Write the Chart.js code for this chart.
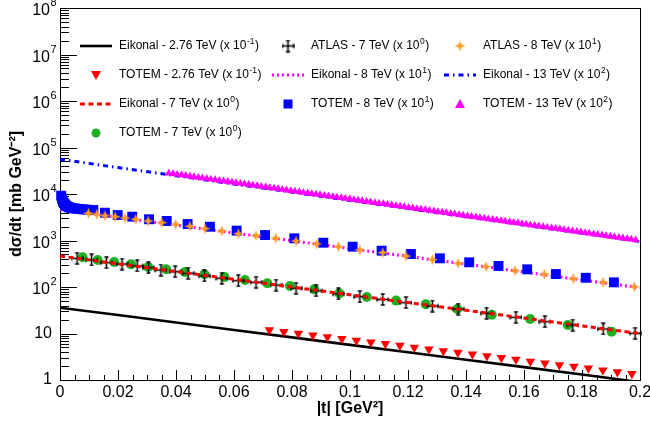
<!DOCTYPE html>
<html>
<head>
<meta charset="utf-8">
<script src="https://cdn.jsdelivr.net/npm/chart.js@4.4.1/dist/chart.umd.min.js"></script>
<style>
  html, body { margin: 0; padding: 0; background: #fff; }
  canvas { display: block; }
</style>
</head>
<body>
<canvas id="chart" width="650" height="434"></canvas>
<script>
// x grid shared by the eikonal curves (|t| in GeV^2)
const curveT = [0, 0.02, 0.04, 0.06, 0.08, 0.1, 0.12, 0.14, 0.16, 0.18, 0.2];
const eik276 = [35.9, 24.9, 17.2, 11.9, 8.24, 5.70, 3.94, 2.73, 1.89, 1.31, 0.90];
const eik7 = [464, 316, 215, 147, 99.9, 68.0, 46.3, 31.6, 21.5, 14.6, 9.96];
const eik8 = [4650, 3157, 2143, 1455, 988, 671, 455, 309, 210, 142, 96.6];
const eik13 = [55700, 37080, 24680, 16430, 10940, 7282, 4848, 3227, 2148, 1430, 952];

// TOTEM 2.76 TeV (x 10^-1)
const totem276T = [0.0722, 0.0772, 0.0822, 0.0872, 0.0922, 0.0972, 0.1022, 0.1072, 0.1122, 0.1172,
  0.1222, 0.1272, 0.1322, 0.1372, 0.1422, 0.1472, 0.1522, 0.1572, 0.1622, 0.1672,
  0.1722, 0.1772, 0.1822, 0.1872, 0.1922, 0.1972];
const totem276 = [11.9, 10.9, 10.0, 9.2, 8.4, 7.7, 7.1, 6.5, 6.0, 5.5,
  5.0, 4.6, 4.2, 3.9, 3.6, 3.3, 3.0, 2.75, 2.5, 2.3,
  2.1, 1.95, 1.8, 1.62, 1.48, 1.36];

// ATLAS 7 TeV (x 10^0)
const atlas7T = [0.0059, 0.0109, 0.0160, 0.0214, 0.0266, 0.0305, 0.0348, 0.0397, 0.0442, 0.0498,
  0.0558, 0.0615, 0.0676, 0.0745, 0.0814, 0.0883, 0.0960, 0.1034, 0.1113, 0.1193,
  0.1284, 0.1373, 0.1471, 0.1572, 0.1672, 0.1768, 0.1873, 0.1983];
const atlas7 = [414, 381, 333, 312, 283, 260, 232, 213, 197, 173,
  154, 137, 126, 110, 94, 83, 71, 62, 54, 46,
  39, 33.6, 27.2, 22.3, 17.9, 15.2, 12.5, 10.1];

// TOTEM 7 TeV (x 10^0)
const totem7T = [0.0078, 0.0130, 0.0187, 0.0245, 0.0304, 0.0366, 0.0431, 0.0498, 0.0567, 0.0638,
  0.0715, 0.0793, 0.0877, 0.0963, 0.1058, 0.1159, 0.1261, 0.1370, 0.1489, 0.1621,
  0.1751, 0.1902];
const totem7 = [435, 381, 345, 308, 269, 240, 210, 188, 164, 142,
  120, 105, 89, 73, 61, 51, 42.5, 33.6, 25.4, 20.5,
  15.2, 10.9];

// ATLAS 8 TeV (x 10^1)
const atlas8T = [0.0098, 0.0127, 0.0155, 0.0190, 0.0224, 0.0261, 0.0304, 0.0351, 0.0399, 0.0448,
  0.0500, 0.0558, 0.0615, 0.0676, 0.0744, 0.0814, 0.0885, 0.0960, 0.1034, 0.1113,
  0.1193, 0.1284, 0.1373, 0.1469, 0.1569, 0.1670, 0.1770, 0.1873, 0.1980];
const atlas8 = [3850, 3660, 3410, 3250, 3050, 2860, 2630, 2420, 2230, 2020,
  1790, 1600, 1400, 1270, 1120, 975, 841, 736, 625, 547,
  464, 387, 323, 274, 224, 188, 151, 126, 101];

// TOTEM 8 TeV (x 10^1)
const totem8T = [0.0004, 0.0007, 0.0010, 0.0013, 0.0017, 0.0021, 0.0026, 0.0031, 0.0037, 0.0044,
  0.0052, 0.0061, 0.0071, 0.0082, 0.0094, 0.0115, 0.0155, 0.0199, 0.0249, 0.0307,
  0.0368, 0.0440, 0.0517, 0.0609, 0.0707, 0.0808, 0.0908, 0.1009, 0.1109, 0.1210,
  0.1310, 0.1411, 0.1512, 0.1611, 0.1710, 0.1813, 0.1910];
const totem8 = [9200, 7900, 7000, 6400, 5950, 5600, 5350, 5180, 5050, 4950,
  4870, 4800, 4730, 4660, 4600, 4530, 3960, 3530, 3250, 2860,
  2630, 2260, 1980, 1630, 1310, 1115, 897, 736, 604, 513,
  414, 340, 283, 240, 190, 158, 126];

// TOTEM 13 TeV (x 10^2)
const totem13T = [
  0.0375, 0.0390, 0.0404, 0.0419, 0.0433, 0.0448, 0.0462, 0.0477, 0.0491, 0.0506,
  0.0520, 0.0535, 0.0549, 0.0564, 0.0578, 0.0593, 0.0607, 0.0622, 0.0636, 0.0651,
  0.0665, 0.0680, 0.0694, 0.0709, 0.0723, 0.0738, 0.0752, 0.0767, 0.0781, 0.0796,
  0.0810, 0.0825, 0.0839, 0.0854, 0.0868, 0.0883, 0.0897, 0.0912, 0.0926, 0.0941,
  0.0955, 0.0970, 0.0984, 0.0999, 0.1013, 0.1028, 0.1042, 0.1057, 0.1071, 0.1086,
  0.1100, 0.1115, 0.1129, 0.1144, 0.1158, 0.1173, 0.1187, 0.1202, 0.1216, 0.1231,
  0.1245, 0.1260, 0.1274, 0.1289, 0.1303, 0.1318, 0.1332, 0.1347, 0.1361, 0.1376,
  0.1390, 0.1405, 0.1419, 0.1434, 0.1448, 0.1463, 0.1477, 0.1492, 0.1506, 0.1521,
  0.1535, 0.1550, 0.1564, 0.1579, 0.1593, 0.1608, 0.1622, 0.1637, 0.1651, 0.1666,
  0.1680, 0.1695, 0.1709, 0.1724, 0.1738, 0.1753, 0.1767, 0.1782, 0.1796, 0.1811,
  0.1825, 0.1840, 0.1854, 0.1869, 0.1883, 0.1898, 0.1912, 0.1927, 0.1941, 0.1956,
  0.1970, 0.1985];
const totem13 = [
  28000, 27180, 26380, 25610, 24860, 24130, 23420, 22740, 22070, 21420,
  20790, 20180, 19590, 19020, 18460, 17920, 17390, 16880, 16390, 15910,
  15440, 14990, 14550, 14120, 13710, 13310, 12920, 12540, 12170, 11810,
  11470, 11130, 10800, 10490, 10180, 9881, 9591, 9310, 9037, 8772,
  8515, 8265, 8023, 7788, 7559, 7338, 7123, 6914, 6711, 6514,
  6322, 6137, 5957, 5783, 5613, 5448, 5289, 5134, 4983, 4837,
  4696, 4558, 4424, 4295, 4169, 4046, 3928, 3813, 3701, 3592,
  3486, 3384, 3285, 3188, 3095, 3004, 2916, 2831, 2748, 2667,
  2590, 2514, 2440, 2369, 2299, 2232, 2166, 2103, 2041, 1981,
  1923, 1867, 1812, 1759, 1707, 1657, 1609, 1561, 1516, 1471,
  1428, 1386, 1346, 1306, 1268, 1231, 1195, 1160, 1126, 1093,
  1061, 1030];

const yPowers = [0, 1, 2, 3, 4, 5, 6, 7, 8];

const FONT = '"Liberation Sans", Arial, Helvetica, sans-serif';
const RED = '#ff0000', GREEN = '#20b020', BLUE = '#0000ff', MAGENTA = '#ff00ff', ORANGE = '#ff9a20';

function pts(xs, ys) {
  return xs.map((t, i) => ({ x: t, y: ys[i] }));
}

// small canvas markers used as point styles
function makeMarker(size, draw) {
  const c = document.createElement('canvas');
  c.width = size; c.height = size;
  draw(c.getContext('2d'), size / 2);
  return c;
}
const atlasMark = makeMarker(13, (g, m) => {
  g.strokeStyle = '#000';
  g.lineWidth = 1.5;
  g.beginPath();
  g.moveTo(1, m); g.lineTo(12, m);
  g.moveTo(m, 1); g.lineTo(m, 12);
  g.moveTo(1, m - 2); g.lineTo(1, m + 2);
  g.moveTo(12, m - 2); g.lineTo(12, m + 2);
  g.moveTo(m - 2, 1); g.lineTo(m + 2, 1);
  g.moveTo(m - 2, 12); g.lineTo(m + 2, 12);
  g.stroke();
});
const starMark = makeMarker(13, (g, m) => {
  const r = 5.5, w = 1.5;
  g.fillStyle = ORANGE;
  g.beginPath();
  g.moveTo(m, m - r); g.lineTo(m + w, m - w); g.lineTo(m + r, m); g.lineTo(m + w, m + w);
  g.lineTo(m, m + r); g.lineTo(m - w, m + w); g.lineTo(m - r, m); g.lineTo(m - w, m - w);
  g.closePath();
  g.fill();
});

function curve(label, ys, color, width, dash) {
  return {
    label, data: pts(curveT, ys), showLine: true, borderColor: color, borderWidth: width,
    borderDash: dash, pointRadius: 0, fill: false, tension: 0
  };
}
function markers(label, xs, ys, style, color, radius, extra) {
  return Object.assign({
    label, data: pts(xs, ys), showLine: false, pointStyle: style, pointRadius: radius,
    backgroundColor: color, borderColor: color, pointBorderWidth: 0, clip: false
  }, extra || {});
}

// first dataset is drawn on top
const datasets = [
  markers('TOTEM - 13 TeV (x 10^2)', totem13T, totem13, 'triangle', MAGENTA, 4.5),
  curve('Eikonal - 13 TeV (x 10^2)', eik13, BLUE, 3, [5, 4, 1.5, 4]),
  markers('ATLAS - 8 TeV (x 10^1)', atlas8T, atlas8, starMark, ORANGE, 6),
  markers('TOTEM - 8 TeV (x 10^1)', totem8T, totem8, 'rect', BLUE, 7),
  curve('Eikonal - 8 TeV (x 10^1)', eik8, MAGENTA, 3, [2, 3]),
  curve('Eikonal - 7 TeV (x 10^0)', eik7, RED, 3, [5, 3.5]),
  markers('ATLAS - 7 TeV (x 10^0)', atlas7T, atlas7, atlasMark, '#000', 6),
  markers('TOTEM - 7 TeV (x 10^0)', totem7T, totem7, 'circle', GREEN, 5),
  markers('TOTEM - 2.76 TeV (x 10^-1)', totem276T, totem276, 'triangle', RED, 5.5, { pointRotation: 180 }),
  curve('Eikonal - 2.76 TeV (x 10^-1)', eik276, '#000', 2.6, [])
];

// legend layout (3 columns, row-major like the original)
const legendCols = [
  { sym: 96, x0: 80, x1: 112, text: 119 },
  { sym: 288, x0: 272, x1: 305, text: 311 },
  { sym: 460, x0: 444, x1: 476, text: 483 }
];
const legendRows = [46, 75, 104, 133];
const legendItems = [
  { text: 'Eikonal - 2.76 TeV (x 10', sup: '-1', kind: 'line', color: '#000', width: 2.6, dash: [] },
  { text: 'ATLAS - 7 TeV (x 10', sup: '0', kind: 'atlas' },
  { text: 'ATLAS - 8 TeV (x 10', sup: '1', kind: 'star' },
  { text: 'TOTEM - 2.76 TeV (x 10', sup: '-1', kind: 'tridown', color: RED },
  { text: 'Eikonal - 8 TeV (x 10', sup: '1', kind: 'line', color: MAGENTA, width: 3, dash: [2, 3] },
  { text: 'Eikonal - 13 TeV (x 10', sup: '2', kind: 'line', color: BLUE, width: 3, dash: [5, 4, 1.5, 4] },
  { text: 'Eikonal - 7 TeV (x 10', sup: '0', kind: 'line', color: RED, width: 3, dash: [5, 3.5] },
  { text: 'TOTEM - 8 TeV (x 10', sup: '1', kind: 'square', color: BLUE },
  { text: 'TOTEM - 13 TeV (x 10', sup: '2', kind: 'triup', color: MAGENTA },
  { text: 'TOTEM - 7 TeV (x 10', sup: '0', kind: 'circle', color: GREEN }
];

function drawLegendSymbol(ctx, item, col, y) {
  const x = col.sym;
  ctx.save();
  if (item.kind === 'line') {
    ctx.strokeStyle = item.color; ctx.lineWidth = item.width; ctx.setLineDash(item.dash);
    ctx.beginPath(); ctx.moveTo(col.x0, y); ctx.lineTo(col.x1, y); ctx.stroke();
  } else if (item.kind === 'atlas') {
    ctx.drawImage(atlasMark, x - 6.5, y - 6.5);
  } else if (item.kind === 'star') {
    ctx.drawImage(starMark, x - 6.5, y - 6.5);
  } else if (item.kind === 'tridown') {
    ctx.fillStyle = item.color;
    ctx.beginPath(); ctx.moveTo(x - 5, y - 4); ctx.lineTo(x + 5, y - 4); ctx.lineTo(x, y + 5); ctx.closePath(); ctx.fill();
  } else if (item.kind === 'triup') {
    ctx.fillStyle = item.color;
    ctx.beginPath(); ctx.moveTo(x - 5, y + 4); ctx.lineTo(x + 5, y + 4); ctx.lineTo(x, y - 5); ctx.closePath(); ctx.fill();
  } else if (item.kind === 'square') {
    ctx.fillStyle = item.color; ctx.fillRect(x - 4.5, y - 4.5, 9, 9);
  } else if (item.kind === 'circle') {
    ctx.fillStyle = item.color; ctx.beginPath(); ctx.arc(x, y, 4.5, 0, Math.PI * 2); ctx.fill();
  }
  ctx.restore();
}

const rootStyle = {
  id: 'rootStyle',
  beforeDatasetsDraw(chart) {
    const { ctx, chartArea: a, scales: { x, y } } = chart;
    ctx.save();
    ctx.strokeStyle = '#000';
    ctx.lineWidth = 1;
    ctx.strokeRect(a.left + 0.5, a.top + 0.5, a.right - a.left, a.bottom - a.top);
    ctx.beginPath();
    // x ticks, drawn inside the frame
    for (let i = 0; i <= 40; i++) {
      const px = Math.round(x.getPixelForValue(i * 0.005)) + 0.5;
      const len = i % 4 === 0 ? 10 : 5;
      ctx.moveTo(px, a.bottom); ctx.lineTo(px, a.bottom - len);
    }
    // log y ticks
    for (let e = 0; e < 8; e++) {
      for (let s = 1; s <= 9; s++) {
        const py = Math.round(y.getPixelForValue(s * Math.pow(10, e))) + 0.5;
        const len = s === 1 ? 17 : 9;
        ctx.moveTo(a.left, py); ctx.lineTo(a.left + len, py);
      }
    }
    ctx.stroke();
    ctx.restore();
  },
  afterDraw(chart) {
    const { ctx, scales: { y } } = chart;
    ctx.save();
    ctx.fillStyle = '#000';
    ctx.textBaseline = 'middle';
    // y tick labels with superscripts
    yPowers.forEach(e => {
      const py = y.getPixelForValue(Math.pow(10, e));
      ctx.font = '16px ' + FONT;
      ctx.textAlign = 'right';
      if (e < 2) {
        ctx.fillText(e === 0 ? '1' : '10', 52, py);
      } else {
        ctx.fillText('10', 50, py + 3);
        ctx.font = '11px ' + FONT;
        ctx.textAlign = 'left';
        ctx.fillText(String(e), 50.5, py - 5);
      }
    });
    // legend
    ctx.textAlign = 'left';
    legendItems.forEach((item, i) => {
      const col = legendCols[i % 3];
      const y0 = legendRows[Math.floor(i / 3)];
      drawLegendSymbol(ctx, item, col, y0);
      ctx.font = '12px ' + FONT;
      ctx.fillText(item.text, col.text, y0);
      const w = ctx.measureText(item.text).width;
      ctx.font = '8.5px ' + FONT;
      ctx.fillText(item.sup, col.text + w + 0.5, y0 - 4.5);
      const w2 = ctx.measureText(item.sup).width;
      ctx.font = '12px ' + FONT;
      ctx.fillText(')', col.text + w + w2 + 1, y0);
    });
    ctx.restore();
  }
};

const ctx = document.getElementById('chart').getContext('2d');
const chart = new Chart(ctx, {
  type: 'scatter',
  data: { datasets },
  options: {
    responsive: false,
    animation: false,
    events: [],
    layout: { padding: { top: 8, right: 10, left: 0, bottom: 0 } },
    plugins: { legend: { display: false }, tooltip: { enabled: false } },
    scales: {
      x: {
        type: 'linear', min: 0, max: 0.2, position: 'bottom',
        grid: { display: false, drawTicks: false },
        border: { display: false },
        ticks: {
          stepSize: 0.02, padding: 3, color: '#000', autoSkip: false, maxRotation: 0,
          font: { size: 16, family: FONT },
          callback: v => String(+v.toFixed(3))
        },
        title: {
          display: true, text: '|t| [GeV²]', color: '#000',
          font: { size: 16, weight: 'bold', family: FONT },
          padding: { top: 0, bottom: 16 }
        },
        afterFit: s => { s.height = 54; s.paddingLeft = 0; s.paddingRight = 0; }
      },
      y: {
        type: 'logarithmic', min: 1, max: 1e8, position: 'left',
        grid: { display: false, drawTicks: false },
        border: { display: false },
        ticks: { display: false },
        title: {
          display: true, text: 'dσ/dt [mb GeV⁻²]', color: '#000',
          font: { size: 16, weight: 'bold', family: FONT },
          padding: { top: 7, bottom: 0 }
        },
        afterFit: s => { s.width = 60; s.paddingTop = 0; s.paddingBottom = 0; }
      }
    }
  },
  plugins: [rootStyle]
});
</script>
</body>
</html>
